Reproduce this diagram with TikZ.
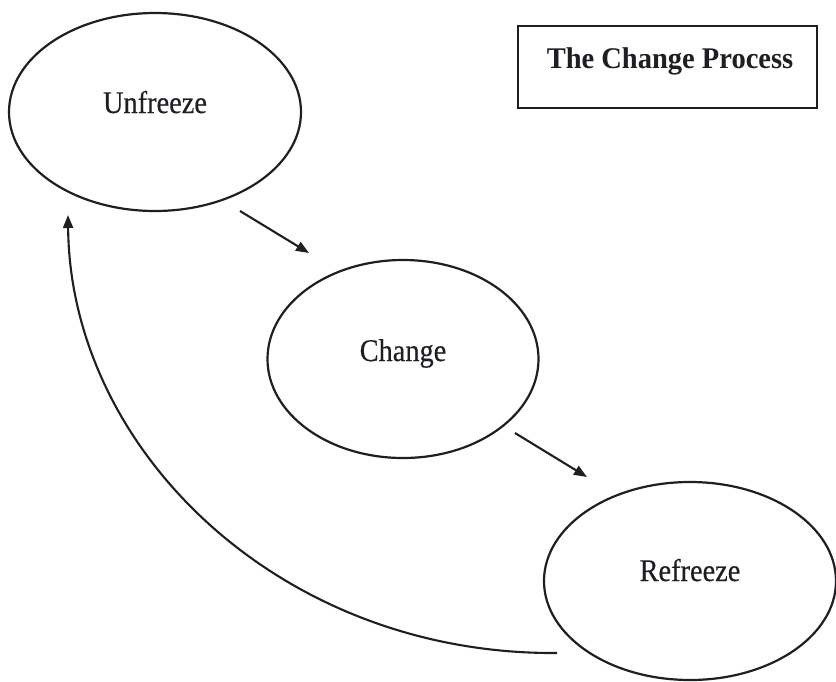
\documentclass[tikz,border=0pt]{standalone}
\usepackage{fontspec}
\setmainfont{Liberation Serif}
\newfontfamily\lblfont[FakeStretch=0.9,FakeBold=0.4]{Liberation Serif}
\newfontfamily\ttlfont[FakeStretch=0.95]{Liberation Serif}
\usetikzlibrary{shapes.geometric,arrows.meta}
\definecolor{ink}{RGB}{30,30,35}
\tikzset{
  ell/.style={draw=ink, line width=2.2pt, ellipse, inner sep=0pt},
  lbl/.style={anchor=base, inner sep=0pt, text=ink, font=\lblfont\fontsize{31.5}{33}\selectfont},
  ttl/.style={anchor=base, inner sep=0pt, text=ink, font=\ttlfont\fontsize{30}{32}\selectfont\bfseries},
  tbox/.style={draw=ink, line width=2.4pt, rectangle, inner sep=0pt},
  arr/.style={draw=ink, line width=2.1pt, -{Triangle[length=13pt,width=10pt]}}
}
\begin{document}
\begin{tikzpicture}[x=1pt,y=-1pt]
\useasboundingbox (0,0) rectangle (836,681);
% title
\node[tbox, minimum width=299pt, minimum height=82pt] (tb) at (667.5,67) {};
\node[ttl] (tt) at (670,68) {The Change Process};
% ellipses
\node[ell, minimum width=292pt, minimum height=198pt] (u) at (155,112) {};
\node[lbl] (ut) at (155,113) {Unfreeze};
\node[ell, minimum width=271pt, minimum height=198pt] (c) at (403,359) {};
\node[lbl] (ct) at (403,361) {Change};
\node[ell, minimum width=292pt, minimum height=198pt] (r) at (690,581) {};
\node[lbl] (rt) at (690,581) {Refreeze};
% connectors
\coordinate (a1s) at (240,211);
\coordinate (a1e) at (309,253);
\coordinate (a2s) at (515,433);
\coordinate (a2e) at (587,477);
\coordinate (a3s) at (557,653);
\coordinate (a3e) at (68,215);
\draw[arr] (a1s) -- (a1e);
\draw[arr] (a2s) -- (a2e);
\draw[arr] (a3s) .. controls (280,655) and (70,450) .. (a3e);
\end{tikzpicture}
\end{document}
